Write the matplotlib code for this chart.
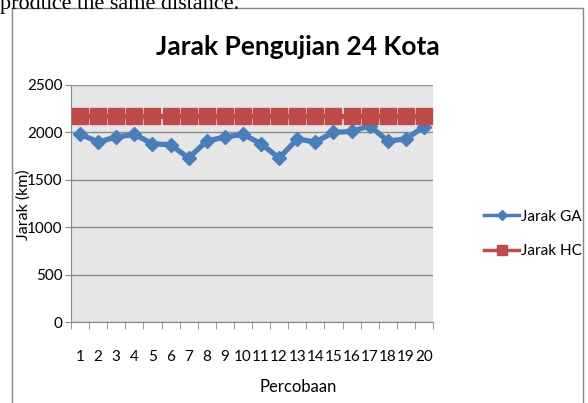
import matplotlib
matplotlib.use("Agg")
import matplotlib.pyplot as plt
from matplotlib.patches import Rectangle
from matplotlib.lines import Line2D

percobaan = list(range(1, 21))
jarak_ga = [1980, 1900, 1950, 1980, 1880, 1870, 1730, 1910, 1950, 1980,
            1880, 1730, 1930, 1900, 2000, 2010, 2070, 1910, 1930, 2060]
jarak_hc = [2170] * 20
yticks = [0, 500, 1000, 1500, 2000, 2500]

font = ["Lato", "Open Sans", "DejaVu Sans"]
plt.rcParams['font.family'] = font

fig = plt.figure(figsize=(5.88, 4.03), dpi=100)
# document text on top
fig.text(0.0, 1 - 5/403, "produce the same distance.", family=["Liberation Serif", "DejaVu Serif"],
         fontsize=16, va="center", ha="left")
# chart border
fig.patches.append(Rectangle((12/588, -0.01), 571/588, 1 - 8/403 + 0.01, transform=fig.transFigure,
                             fill=False, edgecolor="#888888", linewidth=1.0))

ax = fig.add_axes([71/588, 1 - 322/403, 362/588, (322 - 85)/403])
ax.set_facecolor("#e6e6e6")
ax.plot(percobaan, jarak_ga, color="#4a7ebb", lw=3.8, marker="D", ms=7.5, label="Jarak GA", zorder=3)
ax.plot(percobaan, jarak_hc, color="#be4b48", lw=3.8, marker="s", ms=11.5, label="Jarak HC", zorder=4)

ax.set_xlim(0.5, 20.5)
ax.set_ylim(0, 2500)
ax.set_yticks(yticks)
ax.set_xticks(percobaan)
ax.set_xticks([i + 0.5 for i in range(0, 21)], minor=True)
ax.tick_params(axis="x", which="major", length=0, pad=20, labelsize=11)
ax.tick_params(axis="x", which="minor", length=5, color="#888888", direction="out")
ax.tick_params(axis="y", length=4, color="#888888", labelsize=11, pad=2)
ax.grid(axis="y", color="#8c8c8c", lw=1)
ax.set_axisbelow(True)
for s in ["top", "right"]:
    ax.spines[s].set_visible(False)
for s in ["left", "bottom"]:
    ax.spines[s].set_color("#888888")

fig.text(298/588, 1 - 47/403, "Jarak Pengujian 24 Kota", fontsize=19, fontweight="bold",
         ha="center", va="center")
fig.text(298/588, 1 - 387/403, "Percobaan", fontsize=12, ha="center", va="center")
fig.text(16/588, 1 - 205/403, "Jarak (km)", fontsize=11.5, ha="left", va="center", rotation=90)

handles = [Line2D([], [], color="#4a7ebb", lw=2.5, marker="D", ms=5),
           Line2D([], [], color="#be4b48", lw=2.5, marker="s", ms=7)]
fig.legend(handles, ["Jarak GA", "Jarak HC"], loc="center left",
           bbox_to_anchor=(484/588, 1 - 234/403), frameon=False, fontsize=11,
           handlelength=2.3, borderaxespad=0, borderpad=0, labelspacing=1.35, handletextpad=0.15)

fig.savefig("out.png", dpi=100)
